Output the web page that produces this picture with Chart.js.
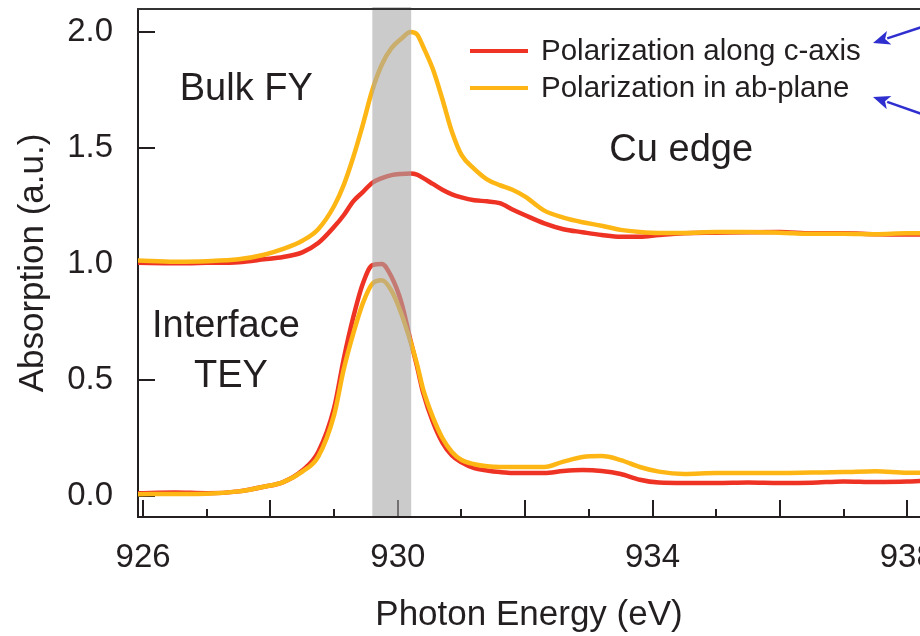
<!DOCTYPE html>
<html>
<head>
<meta charset="utf-8">
<script src="https://cdn.jsdelivr.net/npm/chart.js@4/dist/chart.umd.min.js"></script>
<style>
html,body{margin:0;padding:0;background:#ffffff;}
#wrap{width:920px;height:636px;position:relative;}
</style>
</head>
<body>
<div id="wrap"><canvas id="c" width="920" height="636"></canvas></div>
<script>
// ---------- data ----------
const energy = [925.92, 926.5, 927, 927.5, 927.9, 928.2, 928.5, 928.75, 929.0, 929.15, 929.3, 929.45, 929.6, 929.75, 929.9, 930.05, 930.2, 930.3, 930.4, 930.55, 930.7, 930.85, 931.0, 931.2, 931.4, 931.6, 931.8, 932.0, 932.3, 932.6, 932.9, 933.2, 933.5, 933.8, 934.1, 934.5, 935, 935.5, 936, 936.5, 937, 937.5, 938, 938.2];

// Bulk FY, polarization along c-axis (red)
const bulkC = [1.005, 1.003, 1.005, 1.008, 1.02, 1.03, 1.05, 1.09, 1.16, 1.21, 1.27, 1.31, 1.35, 1.37, 1.383, 1.388, 1.39, 1.385, 1.37, 1.345, 1.32, 1.30, 1.287, 1.275, 1.27, 1.262, 1.235, 1.21, 1.175, 1.15, 1.137, 1.125, 1.117, 1.117, 1.125, 1.133, 1.135, 1.137, 1.138, 1.132, 1.132, 1.128, 1.127, 1.127];

// Bulk FY, polarization in ab-plane (orange)
const bulkAB = [1.015, 1.01, 1.012, 1.02, 1.04, 1.065, 1.10, 1.15, 1.25, 1.34, 1.46, 1.60, 1.75, 1.86, 1.93, 1.97, 2.0, 1.99, 1.935, 1.84, 1.71, 1.57, 1.47, 1.41, 1.365, 1.34, 1.32, 1.29, 1.23, 1.20, 1.18, 1.165, 1.147, 1.138, 1.134, 1.134, 1.138, 1.138, 1.135, 1.13, 1.13, 1.128, 1.132, 1.132];

// Interface TEY, polarization along c-axis (red)
const ifaceC = [0.012, 0.015, 0.012, 0.02, 0.04, 0.06, 0.11, 0.19, 0.38, 0.59, 0.77, 0.915, 0.995, 1.0, 0.945, 0.84, 0.67, 0.56, 0.443, 0.32, 0.23, 0.175, 0.145, 0.12, 0.11, 0.103, 0.099, 0.099, 0.099, 0.108, 0.112, 0.108, 0.095, 0.07, 0.058, 0.056, 0.056, 0.058, 0.056, 0.057, 0.063, 0.06, 0.062, 0.065];

// Interface TEY, polarization in ab-plane (orange)
const ifaceAB = [0.008, 0.009, 0.01, 0.02, 0.04, 0.06, 0.105, 0.17, 0.35, 0.545, 0.70, 0.83, 0.915, 0.93, 0.885, 0.79, 0.665, 0.57, 0.457, 0.34, 0.25, 0.19, 0.155, 0.137, 0.128, 0.125, 0.125, 0.125, 0.125, 0.148, 0.168, 0.172, 0.155, 0.125, 0.105, 0.095, 0.099, 0.099, 0.099, 0.101, 0.103, 0.107, 0.10, 0.10];

const seriesLabels = ['Polarization along c-axis', 'Polarization in ab-plane'];
const xTickValues = [926, 927, 928, 929, 930, 931, 932, 933, 934, 935, 936, 937, 938];
const xLabelValues = [926, 930, 934, 938];
const yTickValues = [0, 0.5, 1.0, 1.5, 2.0];
const highlightBand = [929.6, 930.21];
const annotationTexts = ['Bulk FY', 'Cu edge', 'Interface', 'TEY'];

// ---------- styles ----------
const RED = '#ee3325';
const ORANGE = '#fdb614';
const INK = '#231f20';
const FONT = '"Liberation Sans", Arial, Helvetica, sans-serif';

function pts(xs, ys) { return xs.map((x, i) => ({x: x, y: ys[i]})); }

function lineDs(label, data, color) {
  return {
    label: label, data: data, borderColor: color, backgroundColor: color,
    borderWidth: 4.5, pointRadius: 0, fill: false,
    cubicInterpolationMode: 'monotone', borderCapStyle: 'round', borderJoinStyle: 'round'
  };
}

function arrow(ctx, x1, y1, x2, y2, color) {
  const ang = Math.atan2(y2 - y1, x2 - x1);
  const hl = 17, hw = 7;
  ctx.save();
  ctx.strokeStyle = color; ctx.fillStyle = color; ctx.lineWidth = 2.5;
  ctx.beginPath();
  ctx.moveTo(x1, y1);
  ctx.lineTo(x2 - (hl - 2) * Math.cos(ang), y2 - (hl - 2) * Math.sin(ang));
  ctx.stroke();
  ctx.beginPath();
  ctx.moveTo(x2, y2);
  ctx.lineTo(x2 - hl * Math.cos(ang) + hw * Math.sin(ang), y2 - hl * Math.sin(ang) - hw * Math.cos(ang));
  ctx.lineTo(x2 - hl * 0.75 * Math.cos(ang), y2 - hl * 0.75 * Math.sin(ang));
  ctx.lineTo(x2 - hl * Math.cos(ang) - hw * Math.sin(ang), y2 - hl * Math.sin(ang) + hw * Math.cos(ang));
  ctx.closePath();
  ctx.fill();
  ctx.restore();
}

const decor = {
  id: 'decor',
  beforeDatasetsDraw(chart) {
    const {ctx, chartArea: a, scales: {x, y}} = chart;
    ctx.save();
    ctx.strokeStyle = INK; ctx.lineWidth = 2;
    // inward x ticks
    xTickValues.forEach(v => {
      const px = Math.round(x.getPixelForValue(v));
      const len = (v % 2 === 0) ? 17 : 8;
      ctx.beginPath(); ctx.moveTo(px, a.bottom); ctx.lineTo(px, a.bottom - len); ctx.stroke();
    });
    // inward y ticks
    yTickValues.forEach(v => {
      const py = Math.round(y.getPixelForValue(v));
      ctx.beginPath(); ctx.moveTo(a.left, py); ctx.lineTo(a.left + 17, py); ctx.stroke();
    });
    ctx.restore();
  },
  afterDatasetsDraw(chart) {
    const {ctx, chartArea: a, scales: {x, y}} = chart;
    ctx.save();
    // highlighted energy band
    const b0 = x.getPixelForValue(highlightBand[0]);
    const b1 = x.getPixelForValue(highlightBand[1]);
    ctx.fillStyle = 'rgba(168,168,168,0.6)';
    ctx.fillRect(b0, a.top - 2, b1 - b0, a.bottom - a.top + 1);
    // top frame
    ctx.strokeStyle = '#333333'; ctx.lineWidth = 2;
    ctx.beginPath(); ctx.moveTo(a.left - 1, a.top); ctx.lineTo(a.right, a.top); ctx.stroke();
    ctx.restore();
  },
  afterDraw(chart) {
    const {ctx, chartArea: a, scales: {x, y}} = chart;
    ctx.save();
    ctx.fillStyle = INK;
    ctx.textAlign = 'center'; ctx.textBaseline = 'middle';
    ctx.font = '38px ' + FONT;
    ctx.fillText(annotationTexts[0], x.getPixelForValue(927.62), y.getPixelForValue(1.75));
    ctx.fillText(annotationTexts[1], x.getPixelForValue(934.45), y.getPixelForValue(1.487));
    ctx.fillText(annotationTexts[2], x.getPixelForValue(927.3), y.getPixelForValue(0.729));
    ctx.fillText(annotationTexts[3], x.getPixelForValue(927.38), y.getPixelForValue(0.515));

    // legend
    const lx = a.left + 332, ly = a.top + 42, gap = 37;
    const colors = [RED, ORANGE];
    ctx.textAlign = 'left';
    ctx.font = '29.5px ' + FONT;
    seriesLabels.forEach((lab, i) => {
      const yy = ly + i * gap;
      ctx.strokeStyle = colors[i]; ctx.lineWidth = 4;
      ctx.beginPath(); ctx.moveTo(lx, yy); ctx.lineTo(lx + 58, yy); ctx.stroke();
      ctx.fillStyle = INK;
      ctx.fillText(lab, lx + 71, yy + 1);
    });

    // blue arrows pointing at the legend entries
    arrow(ctx, 922, 27, 873, 43, '#2f2fd0');
    arrow(ctx, 922, 114, 873, 97, '#2f2fd0');
    ctx.restore();
  }
};

new Chart(document.getElementById('c'), {
  type: 'line',
  data: {
    datasets: [
      lineDs(seriesLabels[1], pts(energy, bulkAB), ORANGE),
      lineDs(seriesLabels[1], pts(energy, ifaceAB), ORANGE),
      lineDs(seriesLabels[0], pts(energy, bulkC), RED),
      lineDs(seriesLabels[0], pts(energy, ifaceC), RED)
    ]
  },
  options: {
    responsive: false,
    animation: false,
    devicePixelRatio: 1,
    layout: {padding: {top: 9, left: 0, right: 0, bottom: 0}},
    plugins: {legend: {display: false}, tooltip: {enabled: false}},
    scales: {
      x: {
        type: 'linear', position: 'bottom', min: 925.92, max: 938.2,
        grid: {display: false, drawTicks: false},
        border: {display: true, color: INK, width: 2},
        ticks: {
          autoSkip: false, maxRotation: 0, padding: 21, color: INK,
          font: {family: FONT, size: 33},
          callback: v => xLabelValues.includes(v) ? String(v) : ''
        },
        afterBuildTicks: s => { s.ticks = xTickValues.map(v => ({value: v})); },
        afterFit: s => { s.height = 119; s.paddingLeft = 0; s.paddingRight = 0; },
        title: {display: true, text: 'Photon Energy (eV)', color: INK,
                font: {family: FONT, size: 35}, padding: {top: 0, bottom: 0}}
      },
      y: {
        type: 'linear', position: 'left', min: -0.0905, max: 2.099,
        grid: {display: false, drawTicks: false},
        border: {display: true, color: INK, width: 2},
        ticks: {
          padding: 25, color: INK, font: {family: FONT, size: 33},
          callback: v => Number(v).toFixed(1)
        },
        afterBuildTicks: s => { s.ticks = yTickValues.map(v => ({value: v})); },
        afterFit: s => { s.width = 138; s.paddingTop = 0; s.paddingBottom = 0; },
        title: {display: true, text: 'Absorption (a.u.)', color: INK,
                font: {family: FONT, size: 35}, padding: {top: 12, bottom: 0}}
      }
    }
  },
  plugins: [decor]
});
</script>
</body>
</html>
